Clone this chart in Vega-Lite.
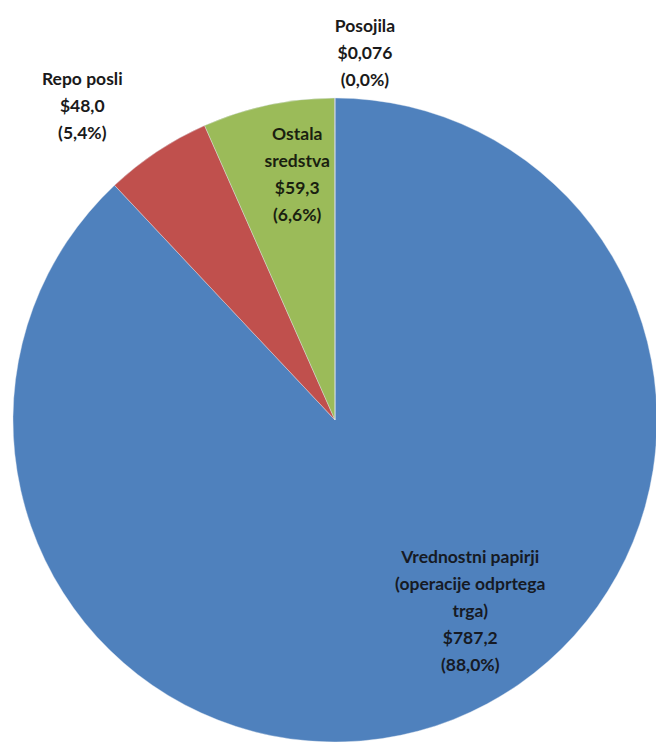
{
  "$schema": "https://vega.github.io/schema/vega-lite/v6.json",
  "width": 644,
  "height": 644,
  "autosize": {"type": "none"},
  "padding": {"left": 13, "top": 98, "right": 0, "bottom": 0},
  "background": "white",
  "view": {"stroke": null},
  "data": {
    "values": [
      {"name": "Vrednostni papirji", "value": 787.2, "i": 1, "label": "Vrednostni papirji\n(operacije odprtega\ntrga)\n$787,2\n(88,0%)"},
      {"name": "Repo posli", "value": 48.0, "i": 2, "label": "Repo posli\n$48,0\n(5,4%)"},
      {"name": "Ostala sredstva", "value": 59.3, "i": 3, "label": "Ostala\nsredstva\n$59,3\n(6,6%)"},
      {"name": "Posojila", "value": 0.076, "i": 4, "label": "Posojila\n$0,076\n(0,0%)"}
    ]
  },
  "encoding": {
    "theta": {"field": "value", "type": "quantitative", "stack": true},
    "order": {"field": "i", "type": "quantitative"}
  },
  "layer": [
    {
      "mark": {"type": "arc", "stroke": "#dfe6ef", "strokeWidth": 0.4},
      "encoding": {
        "color": {
          "field": "name",
          "type": "nominal",
          "scale": {
            "domain": ["Vrednostni papirji", "Repo posli", "Ostala sredstva", "Posojila"],
            "range": ["#4F81BD", "#C0504D", "#9BBB59", "#8064A2"]
          },
          "legend": null
        }
      }
    },
    {
      "mark": {"type": "text", "radius": 245, "dx": 45, "dy": -90, "font": "Lato", "fontSize": 17.5, "fontWeight": "bold", "lineHeight": 27, "lineBreak": "\n", "align": "center", "baseline": "middle", "fill": "#161a24"},
      "encoding": {"text": {"condition": {"test": "datum.name === 'Vrednostni papirji'", "field": "label"}, "value": ""}}
    },
    {
      "mark": {"type": "text", "radius": 403, "dx": -30, "dy": -4, "font": "Lato", "fontSize": 17.5, "fontWeight": "bold", "lineHeight": 27, "lineBreak": "\n", "align": "center", "baseline": "middle", "fill": "#1a1a1a"},
      "encoding": {"text": {"condition": {"test": "datum.name === 'Repo posli'", "field": "label"}, "value": ""}}
    },
    {
      "mark": {"type": "text", "radius": 245, "dx": 13, "dy": -45, "font": "Lato", "fontSize": 17.5, "fontWeight": "bold", "lineHeight": 27, "lineBreak": "\n", "align": "center", "baseline": "middle", "fill": "#1a1f10"},
      "encoding": {"text": {"condition": {"test": "datum.name === 'Ostala sredstva'", "field": "label"}, "value": ""}}
    },
    {
      "mark": {"type": "text", "radius": 368, "dx": 30, "dy": -25, "font": "Lato", "fontSize": 17.5, "fontWeight": "bold", "lineHeight": 27, "lineBreak": "\n", "align": "center", "baseline": "middle", "fill": "#1a1a1a"},
      "encoding": {"text": {"condition": {"test": "datum.name === 'Posojila'", "field": "label"}, "value": ""}}
    }
  ]
}
